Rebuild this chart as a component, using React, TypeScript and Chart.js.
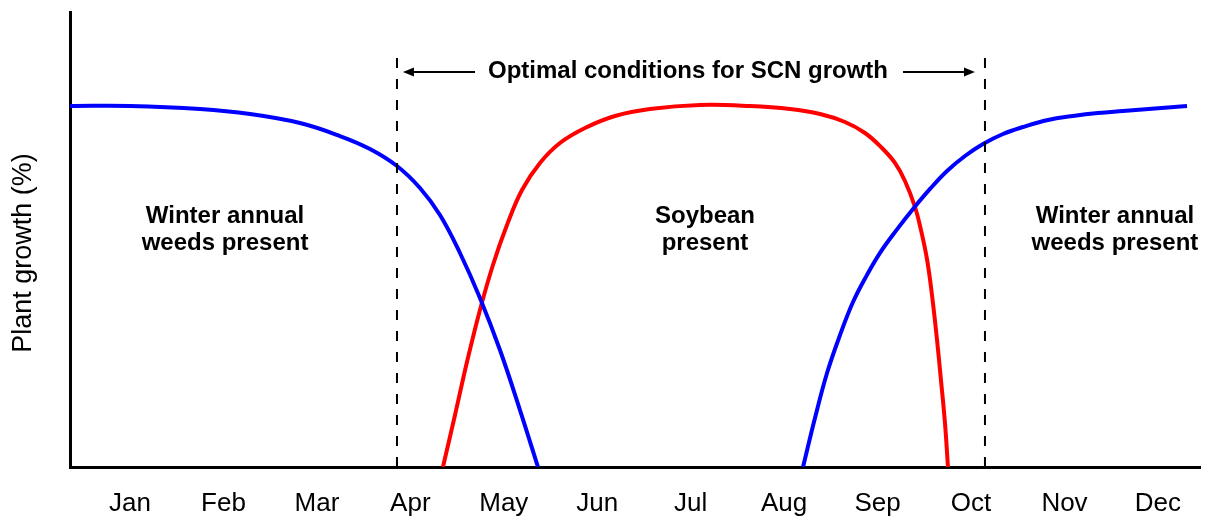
import React, { useEffect, useRef } from "react";
import { Chart, registerables } from "chart.js";

Chart.register(...registerables);

const FONT = "'Liberation Sans', Arial, Helvetica, sans-serif";

// Month tick labels (Jan = 1 ... Dec = 12)
const months = ["Jan", "Feb", "Mar", "Apr", "May", "Jun", "Jul", "Aug", "Sep", "Oct", "Nov", "Dec"];

// Winter annual weeds (first part of the year)
const weedsEarlyX = [0.358, 1.0, 1.749, 2.284, 2.819, 3.247, 3.568, 3.857, 4.103, 4.317, 4.531, 4.745, 4.959, 5.173, 5.366];
const weedsEarlyY = [100, 100, 99.14, 97.75, 95.26, 91.66, 88.06, 83.35, 77.26, 69.78, 59.26, 46.8, 32.4, 15.78, 0];

// Soybean
const soyX = [4.349, 4.478, 4.606, 4.745, 4.884, 5.034, 5.195, 5.387, 5.601, 5.869, 6.19, 6.564, 7.1, 7.635, 8.063, 8.384, 8.651, 8.865, 9.047, 9.186, 9.293, 9.4, 9.464, 9.529, 9.582, 9.636, 9.678, 9.721, 9.753];
const soyY = [0, 14.4, 29.08, 43.48, 55.94, 67.01, 76.71, 84.18, 89.72, 93.88, 97.2, 99.14, 100.25, 99.97, 99.14, 97.75, 95.54, 92.49, 88.34, 84.2, 79.2, 72.0, 65.63, 57.5, 47.63, 35.17, 24.09, 12.18, 0];

// Winter annual weeds (end of the year)
const weedsLateX = [8.202, 8.33, 8.459, 8.598, 8.737, 8.887, 9.026, 9.208, 9.379, 9.561, 9.743, 9.935, 10.128, 10.342, 10.556, 10.823, 11.091, 11.358, 11.626, 11.968, 12.311];
const weedsLateY = [0, 13.57, 26.03, 36.55, 45.69, 53.2, 59.3, 65.8, 71.45, 77.0, 81.97, 86.12, 89.45, 92.21, 94.15, 96.09, 97.2, 98.03, 98.58, 99.28, 99.97];

// Boundaries of optimal SCN conditions
const scnStart = 3.857;
const scnEnd = 10.149;
const scnLineTop = 114.1;

// Axis ranges
const xMin = 0.358;
const xMax = 12.45;
const yMax = 126;

// Annotation texts
const arrowText = "Optimal conditions for SCN growth";
const arrowY = 109.4;
const arrowLeft = [3.921, 4.692];
const arrowRight = [9.272, 10.042];
const arrowTextX = 6.971;
const regionLabels = [
  { x: 2.017, lines: ["Winter annual", "weeds present"] },
  { x: 7.153, lines: ["Soybean", "present"] },
  { x: 11.54, lines: ["Winter annual", "weeds present"] },
];
const regionLineY = [69.5, 61.8];
const yTitle = "Plant growth (%)";

const toPoints = (xs: number[], ys: number[]) => xs.map((x, i) => ({ x, y: ys[i] }));

const annotationPlugin = {
  id: "annotations",
  afterDatasetsDraw(chart: any) {
    const ctx = chart.ctx as CanvasRenderingContext2D;
    const xs = chart.scales.x;
    const ys = chart.scales.y;
    ctx.save();
    ctx.fillStyle = "#000";
    ctx.strokeStyle = "#000";

    // Arrows
    const ay = ys.getPixelForValue(arrowY);
    const drawArrow = (from: number, to: number) => {
      const x1 = xs.getPixelForValue(from);
      const x2 = xs.getPixelForValue(to);
      const dir = Math.sign(x2 - x1);
      ctx.lineWidth = 2;
      ctx.beginPath();
      ctx.moveTo(x1, ay);
      ctx.lineTo(x2 - dir * 8, ay);
      ctx.stroke();
      ctx.beginPath();
      ctx.moveTo(x2, ay);
      ctx.lineTo(x2 - dir * 11, ay - 4.5);
      ctx.lineTo(x2 - dir * 11, ay + 4.5);
      ctx.closePath();
      ctx.fill();
    };
    drawArrow(arrowLeft[1], arrowLeft[0]);
    drawArrow(arrowRight[0], arrowRight[1]);

    ctx.font = `bold 24px ${FONT}`;
    ctx.textAlign = "center";
    ctx.textBaseline = "middle";
    ctx.fillText(arrowText, xs.getPixelForValue(arrowTextX), ys.getPixelForValue(arrowY) - 1);

    regionLabels.forEach((r) => {
      r.lines.forEach((line, i) => {
        ctx.fillText(line, xs.getPixelForValue(r.x), ys.getPixelForValue(regionLineY[i]));
      });
    });

    // Y axis title
    ctx.font = `27px ${FONT}`;
    ctx.translate(24, 253);
    ctx.rotate(-Math.PI / 2);
    ctx.fillText(yTitle, 0, 0);
    ctx.restore();
  },
};

export default function App() {
  const canvasRef = useRef<HTMLCanvasElement | null>(null);

  useEffect(() => {
    if (!canvasRef.current) return;
    const curve = (label: string, xs: number[], ys: number[], color: string) => ({
      label,
      data: toPoints(xs, ys),
      borderColor: color,
      backgroundColor: color,
      borderWidth: 4,
      pointRadius: 0,
      tension: 0.4,
      fill: false,
    });
    const dashed = (label: string, x: number) => ({
      label,
      data: [
        { x, y: 0 },
        { x, y: scnLineTop },
      ],
      borderColor: "#000",
      borderWidth: 2,
      borderDash: [10, 11],
      pointRadius: 0,
      fill: false,
    });

    const chart = new Chart(canvasRef.current, {
      type: "line",
      data: {
        datasets: [
          dashed("SCN start", scnStart),
          dashed("SCN end", scnEnd),
          curve("Winter annual weeds", weedsEarlyX, weedsEarlyY, "#0000FF"),
          curve("Winter annual weeds (fall)", weedsLateX, weedsLateY, "#0000FF"),
          curve("Soybean", soyX, soyY, "#FF0000"),
        ],
      },
      options: {
        animation: false,
        responsive: false,
        layout: { padding: { left: 70, top: 12, right: 5, bottom: 0 } },
        plugins: { legend: { display: false }, tooltip: { enabled: false } },
        scales: {
          x: {
            type: "linear",
            min: xMin,
            max: xMax,
            grid: { display: false, drawTicks: false },
            border: { display: true, color: "#000", width: 3 },
            ticks: {
              stepSize: 1,
              includeBounds: false,
              autoSkip: false,
              maxRotation: 0,
              color: "#000",
              padding: 21,
              font: { family: FONT, size: 26 },
              callback: (v: any) => months[Math.round(Number(v)) - 1] ?? "",
            },
            afterFit: (scale: any) => {
              scale.height = 51;
            },
          },
          y: {
            type: "linear",
            min: 0,
            max: yMax,
            grid: { display: false, drawTicks: false },
            border: { display: true, color: "#000", width: 3 },
            ticks: { display: false },
            afterFit: (scale: any) => {
              scale.width = 0;
            },
          },
        },
      },
      plugins: [annotationPlugin],
    });
    return () => chart.destroy();
  }, []);

  return (
    <div style={{ position: "fixed", left: 0, top: 0, width: 1205, height: 518, background: "#fff" }}>
      <canvas ref={canvasRef} width={1205} height={518} style={{ display: "block" }} />
    </div>
  );
}
